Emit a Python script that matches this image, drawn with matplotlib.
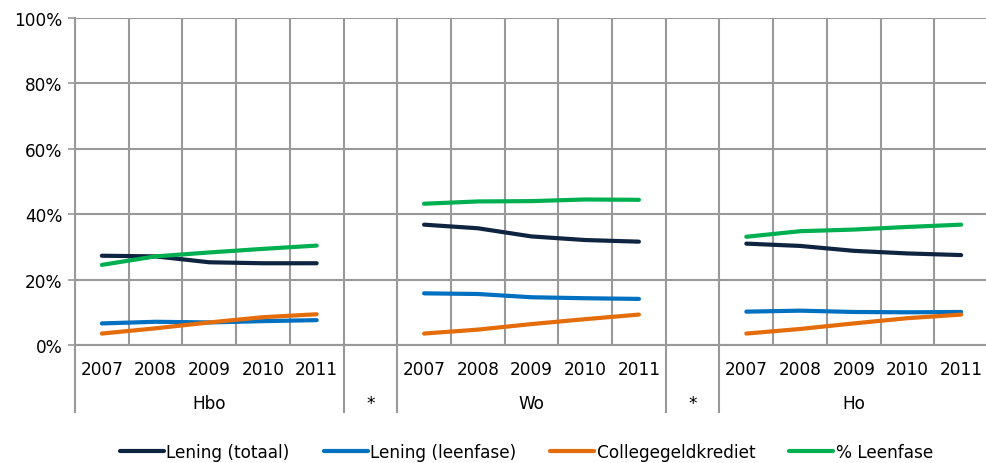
import numpy as np
import matplotlib
matplotlib.use('Agg')
import matplotlib.pyplot as plt
import matplotlib.transforms as mtransforms

# ── DATA ────────────────────────────────────────────────────────────────────
years = ['2007', '2008', '2009', '2010', '2011']
groups = ['Hbo', '*', 'Wo', '*', 'Ho']
group_sizes = [5, 1, 5, 1, 5]
nan = np.nan

lening_totaal = [27.3, 27.1, 25.3, 25.0, 25.0, nan,
                 36.8, 35.7, 33.2, 32.1, 31.6, nan,
                 31.0, 30.3, 28.8, 28.0, 27.5]
lening_leenfase = [6.6, 7.1, 6.9, 7.3, 7.6, nan,
                   15.8, 15.6, 14.6, 14.3, 14.1, nan,
                   10.2, 10.5, 10.1, 10.0, 10.1]
collegegeldkrediet = [3.5, 5.1, 6.9, 8.5, 9.4, nan,
                      3.5, 4.7, 6.4, 7.9, 9.3, nan,
                      3.5, 4.9, 6.6, 8.2, 9.3]
pct_leenfase = [24.5, 27.1, 28.3, 29.4, 30.4, nan,
                43.2, 43.9, 44.0, 44.5, 44.4, nan,
                33.1, 34.8, 35.3, 36.1, 36.8]

series = [
    ('Lening (totaal)', lening_totaal, '#0f2441'),
    ('Lening (leenfase)', lening_leenfase, '#0070c0'),
    ('Collegegeldkrediet', collegegeldkrediet, '#e46c0a'),
    ('% Leenfase', pct_leenfase, '#00b050'),
]
# ─────────────────────────────────────────────────────────────────────────────

GRID = '#999999'
FS = 12.2
plt.rcParams['font.family'] = ['DejaVu Sans']

fig = plt.figure(figsize=(9.86, 4.64), dpi=100)
ax = fig.add_axes([75 / 986, 1 - 346 / 464, 913 / 986, 327 / 464])

n = sum(group_sizes)
x = np.arange(n)
for label, vals, col in series:
    ax.plot(x, np.array(vals, dtype=float), color=col, lw=3.0,
            solid_capstyle='round', label=label, zorder=3)

ax.set_xlim(-0.5, n - 0.5)
ax.set_ylim(0, 100)
ax.set_yticks(np.arange(0, 101, 20))
ax.set_yticklabels([f'{v}%' for v in range(0, 101, 20)], fontsize=FS)
ax.set_xticks([])
ax.set_xticks(np.arange(n + 1) - 0.5, minor=True)
ax.tick_params(axis='x', which='minor', length=0)
ax.tick_params(axis='y', length=5, width=1.2, color=GRID, pad=4)
ax.grid(True, which='minor', axis='x', color=GRID, lw=1.5)
ax.grid(True, which='major', axis='y', color=GRID, lw=1.5)
for s in ['top', 'right']:
    ax.spines[s].set_visible(False)
for s in ['left', 'bottom']:
    ax.spines[s].set_color(GRID)
    ax.spines[s].set_linewidth(1.5)

# two-level category axis
trans = mtransforms.blended_transform_factory(ax.transData, ax.transAxes)
pos = 0
bounds = [-0.5]
for g, size in zip(groups, group_sizes):
    if size == 5:
        for i, yr in enumerate(years):
            ax.text(pos + i, -0.074, yr, transform=trans, ha='center',
                    va='center', fontsize=FS)
    ax.text(pos + (size - 1) / 2, -0.178, g, transform=trans, ha='center',
            va='center', fontsize=FS)
    pos += size
    bounds.append(pos - 0.5)
for b in bounds:
    ax.plot([b, b], [0, -0.205], transform=trans, color=GRID, lw=1.5,
            clip_on=False)

leg = fig.legend(loc='center', bbox_to_anchor=(0.534, 1 - 453 / 464), ncol=4,
                 frameon=False, fontsize=FS, handlelength=2.6,
                 handletextpad=0.15, columnspacing=2.0)

fig.savefig('out.png', dpi=100)
